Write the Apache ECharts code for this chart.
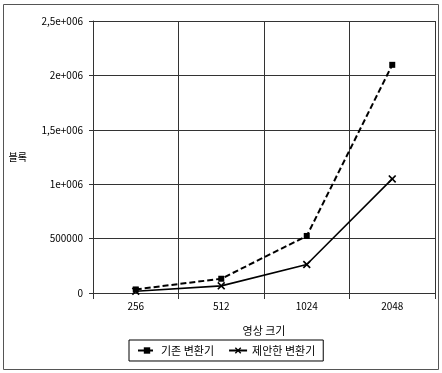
<!DOCTYPE html>
<html><head><meta charset="utf-8">
<script src="https://cdn.jsdelivr.net/npm/echarts@6/dist/echarts.min.js"></script>
<style>html,body{margin:0;padding:0;background:#fff}#c{width:442px;height:373px}</style>
</head><body><div id="c"></div>
<script>
const categories = ['256', '512', '1024', '2048'];
const seriesNames = ['기존 변환기', '제안한 변환기'];
const conventional = [32768, 131072, 524288, 2097152];
const proposed = [16384, 65536, 262144, 1048576];
const yTicks = {0: '0', 500000: '500000', 1000000: '1e+006', 1500000: '1,5e+006', 2000000: '2e+006', 2500000: '2,5e+006'};

const font = '"Noto Sans CJK KR", "Noto Sans", sans-serif';
const xPath = 'path://M0,1.5L1.5,0L5,3.5L8.5,0L10,1.5L6.5,5L10,8.5L8.5,10L5,6.5L1.5,10L0,8.5L3.5,5Z';
const chart = echarts.init(document.getElementById('c'));
chart.setOption({
  animation: false,
  textStyle: {fontFamily: font},
  graphic: [{type: 'rect', shape: {x: 3.5, y: 4.5, width: 435, height: 365}, style: {fill: 'none', stroke: '#555', lineWidth: 1}, silent: true}],
  grid: {left: 93, right: 7, top: 21, bottom: 80},
  legend: {
    data: seriesNames,
    left: 129, top: 340, width: 193, height: 23,
    padding: [5, 8, 5, 8], itemGap: 14, itemWidth: 18, itemHeight: 8,
    borderColor: '#000', borderWidth: 1,
    textStyle: {fontFamily: font, fontSize: 11, color: '#000'}
  },
  xAxis: {
    type: 'category', data: categories, boundaryGap: true,
    name: '영상 크기', nameLocation: 'middle', nameGap: 32,
    nameTextStyle: {fontFamily: font, fontSize: 11, color: '#000'},
    axisLine: {lineStyle: {color: '#333', width: 1}},
    axisTick: {show: true, length: 6, lineStyle: {color: '#333'}},
    axisLabel: {fontFamily: font, fontSize: 10, color: '#000', margin: 8},
    splitLine: {show: true, lineStyle: {color: '#333', width: 1}}
  },
  yAxis: {
    type: 'value', min: 0, max: 2500000, interval: 500000,
    name: '블록', nameLocation: 'middle', nameGap: 66, nameRotate: 0,
    nameTextStyle: {fontFamily: font, fontSize: 10, color: '#000', verticalAlign: 'middle', padding: [0, 0, 0, 0]},
    axisLine: {show: true, lineStyle: {color: '#333', width: 1}},
    axisTick: {show: true, length: 4, lineStyle: {color: '#333'}},
    axisLabel: {fontFamily: font, fontSize: 10, color: '#000', margin: 10, formatter: v => yTicks[v] !== undefined ? yTicks[v] : ''},
    splitLine: {show: true, lineStyle: {color: '#333', width: 1}}
  },
  series: [
    {name: seriesNames[0], type: 'line', data: conventional, symbol: 'rect', symbolSize: 6,
     lineStyle: {color: '#000', width: 2, type: [6, 3]}, itemStyle: {color: '#000'}},
    {name: seriesNames[1], type: 'line', data: proposed, symbol: xPath, symbolSize: 8,
     lineStyle: {color: '#000', width: 1.6}, itemStyle: {color: '#000'}}
  ]
});
</script></body></html>
